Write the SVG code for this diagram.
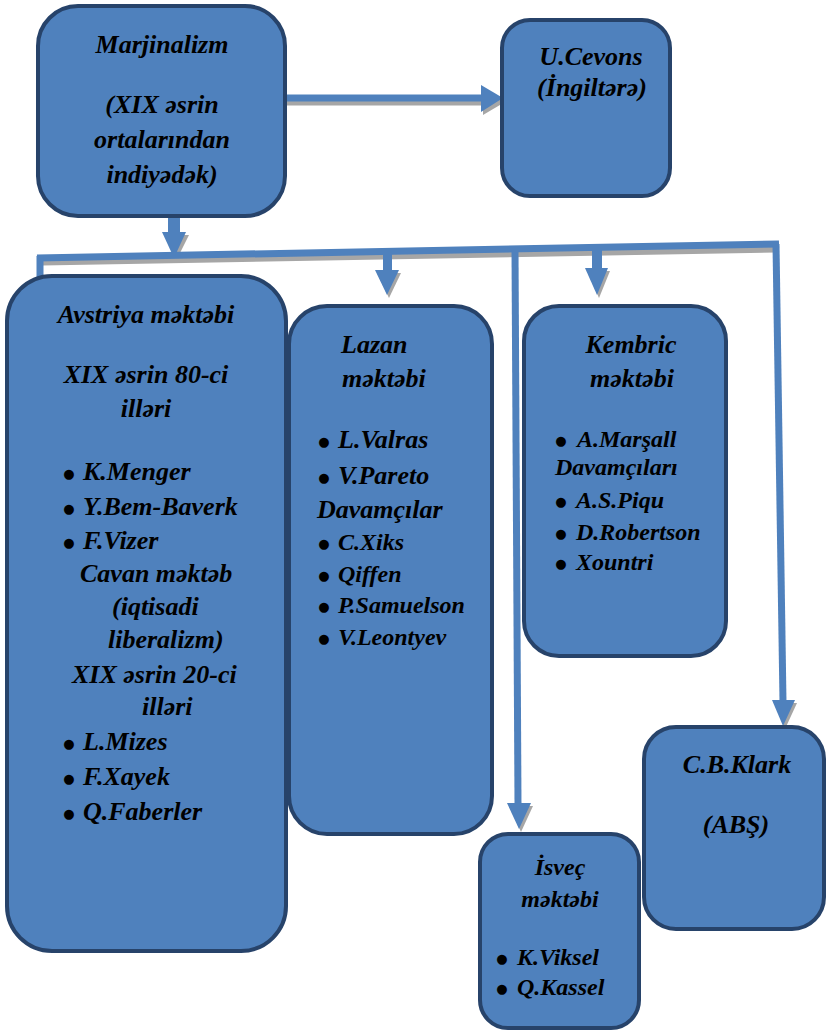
<svg xmlns="http://www.w3.org/2000/svg" width="827" height="1032" viewBox="0 0 827 1032">
<style>
.box{fill:#4F81BD;stroke:#27436A;stroke-width:4}
.t{font-family:'Liberation Serif','Times New Roman','DejaVu Serif',serif;font-weight:700;font-style:italic;font-size:26px;fill:#000}
.s{font-size:24px}
.c{text-anchor:middle}
.b{font-family:'DejaVu Sans',sans-serif;font-size:13px;text-anchor:middle;fill:#000}
.ln{stroke:#4F81BD;stroke-width:7;fill:none}
.sh{stroke:#A6A6A6;stroke-width:7;fill:none}
.ah{fill:#4F81BD}
.ahs{fill:#A6A6A6}
</style>
<rect width="827" height="1032" fill="#fff"/>
<g id="connectors">
  <line class="sh" x1="287" y1="102" x2="482" y2="102"/>
  <polygon class="ahs" points="483,89 505,102 483,115"/>
  <polygon class="ahs" points="165,235 189,235 176,261"/>
  <line class="sh" x1="42" y1="262" x2="776" y2="249"/>
  <polygon class="ahs" points="377,273 401,273 389,298"/>
  <polygon class="ahs" points="509,806 533,806 521,832"/>
  <polygon class="ahs" points="587,271 610,271 599,298"/>
  <polygon class="ahs" points="774,703 797,703 785,729"/>
  <line class="ln" x1="287" y1="98" x2="482" y2="98"/>
  <polygon class="ah" points="481,85 503,98 481,112"/>
  <rect class="ah" x="168" y="216" width="12" height="18"/>
  <polygon class="ah" points="162,232 186,232 174,258"/>
  <line class="ln" x1="37" y1="258" x2="779" y2="244"/>
  <line class="ln" x1="40" y1="256" x2="40" y2="278"/>
  <rect class="ah" x="383" y="250" width="9" height="22"/>
  <polygon class="ah" points="375,270 399,270 387,295"/>
  <line class="ln" x1="515" y1="250" x2="518" y2="805"/>
  <polygon class="ah" points="507,803 531,803 519,829"/>
  <rect class="ah" x="592" y="248" width="10" height="22"/>
  <polygon class="ah" points="585,268 608,268 597,295"/>
  <line class="ln" x1="776" y1="244" x2="783" y2="702"/>
  <polygon class="ah" points="772,700 795,700 783,726"/>
</g>
<g id="marjinalizm">
  <rect class="box" x="38" y="6" width="247" height="210" rx="40"/>
  <text class="t c" x="162" y="53">Marjinalizm</text>
  <text class="t c" x="162" y="113">(XIX əsrin</text>
  <text class="t c" x="162" y="148">ortalarından</text>
  <text class="t c" x="162" y="183">indiyədək)</text>
</g>
<g id="cevons">
  <rect class="box" x="502" y="20" width="168" height="176" rx="28"/>
  <text class="t c" x="591" y="65">U.Cevons</text>
  <text class="t c" x="592" y="96">(İngiltərə)</text>
</g>
<g id="avstriya">
  <rect class="box" x="7" y="276" width="279" height="675" rx="45"/>
  <text class="t c" x="146" y="323">Avstriya məktəbi</text>
  <text class="t c" x="146" y="383">XIX əsrin 80-ci</text>
  <text class="t c" x="146" y="417">illəri</text>
  <text class="b" x="69" y="478">●</text><text class="t" x="83" y="480">K.Menger</text>
  <text class="b" x="69" y="513">●</text><text class="t" x="83" y="515">Y.Bem-Baverk</text>
  <text class="b" x="69" y="547">●</text><text class="t" x="83" y="549">F.Vizer</text>
  <text class="t" x="80" y="582">Cavan məktəb</text>
  <text class="t" x="112" y="615">(iqtisadi</text>
  <text class="t" x="108" y="648">liberalizm)</text>
  <text class="t" x="72" y="683">XIX əsrin 20-ci</text>
  <text class="t" x="142" y="715">illəri</text>
  <text class="b" x="69" y="748">●</text><text class="t" x="83" y="750">L.Mizes</text>
  <text class="b" x="69" y="783">●</text><text class="t" x="83" y="785">F.Xayek</text>
  <text class="b" x="69" y="818">●</text><text class="t" x="83" y="820">Q.Faberler</text>
</g>
<g id="lazan">
  <rect class="box" x="289" y="306" width="203" height="528" rx="38"/>
  <text class="t" x="341" y="353">Lazan</text>
  <text class="t" x="342" y="387">məktəbi</text>
  <text class="b" x="324" y="446">●</text><text class="t" x="338" y="448">L.Valras</text>
  <text class="b" x="324" y="482">●</text><text class="t" x="338" y="484">V.Pareto</text>
  <text class="t" x="317" y="518">Davamçılar</text>
  <text class="b" x="324" y="548">●</text><text class="t s" x="338" y="550">C.Xiks</text>
  <text class="b" x="324" y="580">●</text><text class="t s" x="338" y="582">Qiffen</text>
  <text class="b" x="324" y="611">●</text><text class="t s" x="338" y="613">P.Samuelson</text>
  <text class="b" x="324" y="643">●</text><text class="t s" x="338" y="645">V.Leontyev</text>
</g>
<g id="kembric">
  <rect class="box" x="524" y="306" width="202" height="350" rx="35"/>
  <text class="t c" x="631" y="353">Kembric</text>
  <text class="t c" x="632" y="387">məktəbi</text>
  <text class="b" x="561" y="445">●</text><text class="t s" x="577" y="447">A.Marşall</text>
  <text class="t s" x="555" y="475">Davamçıları</text>
  <text class="b" x="561" y="506">●</text><text class="t s" x="576" y="508">A.S.Piqu</text>
  <text class="b" x="561" y="538">●</text><text class="t s" x="576" y="540">D.Robertson</text>
  <text class="b" x="561" y="568">●</text><text class="t s" x="576" y="570">Xountri</text>
</g>
<g id="klark">
  <rect class="box" x="644" y="727" width="180" height="202" rx="32"/>
  <text class="t c" x="737" y="773">C.B.Klark</text>
  <text class="t c" x="736" y="833">(ABŞ)</text>
</g>
<g id="isvec">
  <rect class="box" x="480" y="834" width="159" height="194" rx="28"/>
  <text class="t s c" x="560" y="875">İsveç</text>
  <text class="t s c" x="560" y="907">məktəbi</text>
  <text class="b" x="502" y="963">●</text><text class="t s" x="517" y="965">K.Viksel</text>
  <text class="b" x="502" y="993">●</text><text class="t s" x="517" y="995">Q.Kassel</text>
</g>
</svg>
